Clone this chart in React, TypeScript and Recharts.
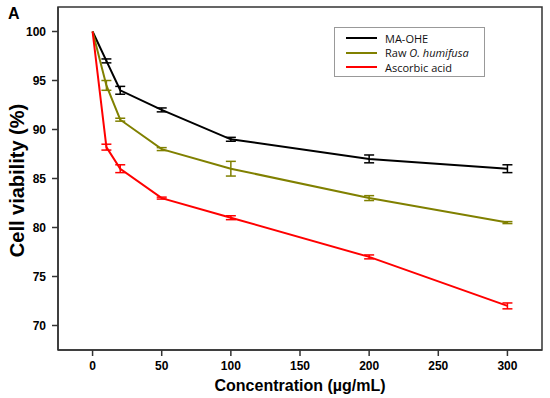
import { ErrorBar, Label, Line, LineChart, ReferenceArea, XAxis, YAxis } from 'recharts';

const concentrations = [0, 10, 20, 50, 100, 200, 300];
const maOhe = [100, 97, 94, 92, 89, 87, 86];
const maOheErr = [null, 0.2, 0.4, 0.2, 0.2, 0.4, 0.4];
const rawHumifusa = [100, 94.5, 91, 88, 86, 83, 80.5];
const rawHumifusaErr = [null, 0.5, 0.15, 0.15, 0.75, 0.25, 0.1];
const ascorbic = [100, 88.2, 86, 83, 81, 77, 72];
const ascorbicErr = [null, 0.3, 0.4, 0.1, 0.2, 0.2, 0.3];

const xTicks = [0, 50, 100, 150, 200, 250, 300];
const yTicks = [70, 75, 80, 85, 90, 95, 100];

const data = concentrations.map((c, i) => ({
  c,
  ma: maOhe[i],
  maErr: maOheErr[i],
  raw: rawHumifusa[i],
  rawErr: rawHumifusaErr[i],
  asc: ascorbic[i],
  ascErr: ascorbicErr[i],
}));

const series = [
  { key: 'ma', err: 'maErr', color: '#000000', name: 'MA-OHE' },
  { key: 'raw', err: 'rawErr', color: '#808000', name: 'Raw' },
  { key: 'asc', err: 'ascErr', color: '#ff0000', name: 'Ascorbic acid' },
];

const tickStyle = { fontSize: 12, fontWeight: 700, fill: '#000', fontFamily: 'Liberation Sans, Arial, sans-serif' };

// legend drawn as a plain box over the plot, like the original figure
function LegendBox() {
  return (
    <div
      style={{
        position: 'absolute',
        left: 334,
        top: 27,
        width: 151,
        height: 50,
        border: '1px solid #999',
        background: '#fff',
        boxSizing: 'border-box',
        fontFamily: 'Open Sans, sans-serif',
        fontSize: 11,
        color: '#111',
        padding: '3px 0 0 11px',
      }}
    >
      {series.map((s) => (
        <div key={s.key} style={{ display: 'flex', alignItems: 'center', height: 14.5 }}>
          <span style={{ display: 'inline-block', width: 31, height: 2, background: s.color, marginRight: 8 }} />
          {s.key === 'raw' ? (
            <span>
              Raw <i>O. humifusa</i>
            </span>
          ) : (
            <span>{s.name}</span>
          )}
        </div>
      ))}
    </div>
  );
}

export default function App() {
  return (
    <div style={{ position: 'absolute', left: 0, top: 0, width: 550, height: 398, background: '#fff', fontFamily: 'Liberation Sans, Arial, sans-serif' }}>
      <LineChart width={550} height={398} data={data} margin={{ top: 7, right: 8, left: 0, bottom: 0 }}>
        <XAxis
          dataKey="c"
          type="number"
          domain={[-25, 325]}
          ticks={xTicks}
          tick={tickStyle}
          tickSize={6}
          tickMargin={5}
          height={48}
          axisLine={{ stroke: '#333', strokeWidth: 1.5 }}
          tickLine={{ stroke: '#333', strokeWidth: 1.5 }}
        >
          <Label
            content={({ viewBox }: any) => (
              <text
                x={viewBox.x + viewBox.width / 2}
                y={viewBox.y + 41}
                textAnchor="middle"
                style={{ fontSize: 16, fontWeight: 700, fill: '#000' }}
              >
                Concentration (µg/mL)
              </text>
            )}
          />
        </XAxis>
        <YAxis
          type="number"
          domain={[67.5, 102.5]}
          ticks={yTicks}
          tick={tickStyle}
          tickSize={6}
          tickMargin={6}
          width={58}
          axisLine={{ stroke: '#333', strokeWidth: 1.5 }}
          tickLine={{ stroke: '#333', strokeWidth: 1.5 }}
        >
          <Label
            content={({ viewBox }: any) => {
              const cx = 17;
              const cy = viewBox.y + viewBox.height / 2 + 2;
              return (
                <text
                  x={cx}
                  y={cy}
                  dy={7}
                  textAnchor="middle"
                  transform={`rotate(-90 ${cx} ${cy})`}
                  style={{ fontSize: 20, fontWeight: 700, fill: '#000' }}
                >
                  Cell viability (%)
                </text>
              );
            }}
          />
        </YAxis>
        <ReferenceArea x1={-25} x2={325} y1={67.5} y2={102.5} fill="none" stroke="#333" strokeWidth={1.5} ifOverflow="visible" />
        {series.map((s) => (
          <Line
            key={s.key}
            dataKey={s.key}
            stroke={s.color}
            strokeWidth={2}
            dot={false}
            activeDot={false}
            isAnimationActive={false}
            type="linear"
          >
            <ErrorBar dataKey={s.err} width={5} stroke={s.color} strokeWidth={1.5} direction="y" isAnimationActive={false} />
          </Line>
        ))}
      </LineChart>
      <LegendBox />
      <div style={{ position: 'absolute', left: 8, top: 5, fontSize: 16, fontWeight: 700, color: '#000' }}>A</div>
    </div>
  );
}
